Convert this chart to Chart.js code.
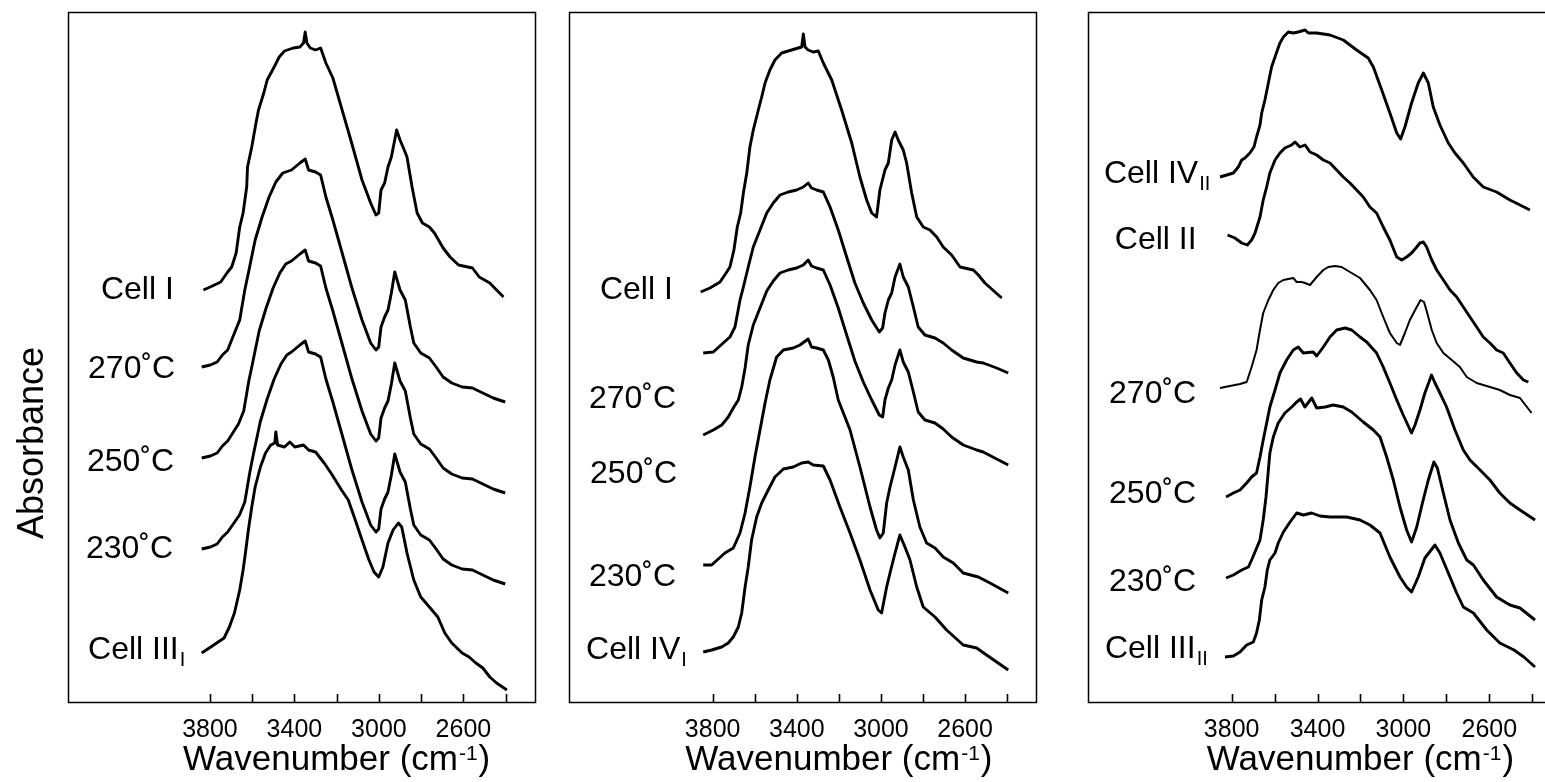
<!DOCTYPE html>
<html>
<head>
<meta charset="utf-8">
<script src="https://cdn.jsdelivr.net/npm/chart.js@4.4.1/dist/chart.umd.min.js"></script>
<style>
  html, body { margin: 0; padding: 0; background: #fff; overflow: hidden; }
  #wrap { position: relative; width: 1545px; height: 782px; overflow: hidden; }
  canvas { position: absolute; top: 0; }
</style>
</head>
<body>
<div id="wrap">
  <canvas id="c1" width="545" height="782" style="left:0"></canvas>
  <canvas id="c2" width="500" height="782" style="left:545px"></canvas>
  <canvas id="c3" width="520" height="782" style="left:1045px"></canvas>
</div>
<script>
// x: wavenumber (cm-1), y: absorbance with offsets (arbitrary units)
const tickValues = [3800, 3600, 3400, 3200, 3000, 2800, 2600, 2400];
const labeledTicks = [3800, 3400, 3000, 2600];

// panel 1
const p1CellI = [[3831,412],[3799,415],[3749,420],[3716,430],[3697,435],[3676,449],[3659,475],[3643,489],[3626,515],[3622,535],[3602,555],[3582,579],[3570,592],[3545,609],[3529,622],[3496,635],[3472,645],[3447,651],[3406,654],[3374,655],[3357,659],[3349,670],[3341,659],[3325,654],[3300,652],[3276,654],[3251,639],[3218,624],[3170,589],[3129,559],[3080,522],[3039,499],[3014,487],[3001,489],[2990,512],[2973,519],[2957,535],[2941,545],[2916,572],[2900,562],[2884,554],[2867,545],[2843,515],[2819,489],[2794,479],[2761,475],[2737,469],[2696,454],[2663,445],[2623,437],[2557,434],[2525,425],[2475,419],[2443,412],[2410,405]];
const p1T270 = [[3839,335],[3798,337],[3766,340],[3741,347],[3716,352],[3684,369],[3659,382],[3635,412],[3618,429],[3586,462],[3553,485],[3520,505],[3488,520],[3455,529],[3414,532],[3374,539],[3349,543],[3333,532],[3300,530],[3276,527],[3251,505],[3218,482],[3178,452],[3129,415],[3080,382],[3039,359],[3014,352],[3001,355],[2990,375],[2973,385],[2957,392],[2941,409],[2925,430],[2900,412],[2875,402],[2851,375],[2835,359],[2802,349],[2761,344],[2729,335],[2696,325],[2655,319],[2606,315],[2557,314],[2508,309],[2459,304],[2402,300]];
const p1T250 = [[3839,244],[3798,246],[3766,249],[3741,256],[3716,261],[3665,278],[3640,291],[3616,321],[3599,338],[3567,371],[3534,394],[3501,414],[3469,429],[3441,438],[3414,441],[3374,448],[3349,452],[3333,441],[3300,439],[3276,436],[3251,414],[3218,391],[3178,361],[3129,324],[3080,291],[3039,268],[3014,261],[3001,264],[2990,284],[2973,294],[2957,301],[2941,318],[2925,339],[2900,321],[2875,311],[2851,284],[2835,268],[2802,258],[2761,253],[2729,244],[2696,234],[2655,228],[2606,224],[2557,223],[2508,218],[2459,213],[2402,209]];
const p1T230 = [[3839,153],[3798,155],[3766,158],[3741,165],[3716,170],[3660,187],[3635,200],[3611,230],[3595,247],[3562,280],[3529,303],[3496,323],[3464,338],[3436,347],[3414,350],[3374,357],[3349,361],[3333,350],[3300,348],[3276,345],[3251,323],[3218,300],[3178,270],[3129,233],[3080,200],[3039,177],[3014,170],[3001,173],[2990,193],[2973,203],[2957,210],[2941,227],[2925,248],[2900,230],[2875,220],[2851,193],[2835,177],[2802,167],[2761,162],[2729,153],[2696,143],[2655,137],[2606,133],[2557,132],[2508,127],[2459,122],[2402,118]];
const p1CellIIIi = [[3839,49],[3782,57],[3733,64],[3708,75],[3684,89],[3659,112],[3643,132],[3632,149],[3618,172],[3602,195],[3586,215],[3561,235],[3537,249],[3512,257],[3493,259],[3488,270],[3480,257],[3447,255],[3422,260],[3398,255],[3357,257],[3333,252],[3300,250],[3259,239],[3227,229],[3177,212],[3145,202],[3112,182],[3080,162],[3047,142],[3023,130],[3001,125],[2981,135],[2957,159],[2933,172],[2908,179],[2892,175],[2867,149],[2835,122],[2802,105],[2761,95],[2721,85],[2688,69],[2655,59],[2606,49],[2573,45],[2541,39],[2508,34],[2475,25],[2443,19],[2394,12]];

// panel 2
const p2CellI = [[3857,410],[3813,414],[3765,420],[3733,430],[3718,435],[3699,452],[3683,475],[3667,489],[3654,509],[3638,529],[3623,555],[3607,572],[3583,592],[3567,605],[3551,619],[3528,632],[3504,642],[3472,649],[3425,652],[3393,654],[3377,655],[3369,668],[3361,655],[3346,652],[3322,650],[3298,651],[3274,639],[3234,622],[3187,592],[3139,559],[3100,525],[3068,502],[3044,489],[3021,485],[3005,512],[2981,532],[2965,539],[2949,562],[2933,570],[2918,562],[2894,552],[2878,539],[2854,509],[2830,485],[2799,475],[2767,472],[2735,465],[2704,455],[2664,447],[2624,435],[2561,432],[2537,427],[2506,419],[2458,410],[2426,404]];
const p2T270 = [[3845,349],[3797,350],[3750,359],[3718,365],[3694,375],[3670,402],[3654,415],[3631,435],[3607,455],[3575,472],[3543,489],[3512,499],[3480,507],[3441,510],[3401,512],[3369,515],[3346,519],[3330,514],[3306,512],[3274,510],[3242,495],[3203,472],[3163,445],[3124,419],[3084,399],[3044,382],[3008,370],[2992,374],[2981,389],[2965,402],[2949,409],[2933,425],[2910,438],[2894,425],[2870,415],[2846,395],[2823,375],[2791,367],[2743,364],[2704,359],[2664,352],[2609,344],[2545,340],[2514,339],[2450,334],[2395,329]];
const p2T250 = [[3845,267],[3797,272],[3757,277],[3726,285],[3702,294],[3678,302],[3662,315],[3646,334],[3631,357],[3607,377],[3575,394],[3543,411],[3512,421],[3480,429],[3441,432],[3401,434],[3369,437],[3346,442],[3330,436],[3306,434],[3274,432],[3242,417],[3203,394],[3163,367],[3124,341],[3084,320],[3044,302],[3008,287],[2992,285],[2981,302],[2965,314],[2949,322],[2933,337],[2910,352],[2894,340],[2870,330],[2846,310],[2823,290],[2791,282],[2743,279],[2704,273],[2664,265],[2609,257],[2545,252],[2514,250],[2450,243],[2395,237]];
const p2T230 = [[3845,137],[3805,137],[3742,149],[3702,154],[3670,169],[3646,189],[3623,215],[3599,245],[3575,272],[3551,299],[3528,322],[3496,345],[3464,352],[3417,354],[3385,357],[3346,363],[3330,355],[3306,354],[3274,352],[3250,342],[3227,325],[3203,302],[3147,272],[3100,235],[3052,195],[3021,172],[3005,164],[2989,169],[2973,199],[2957,215],[2933,235],[2910,255],[2894,245],[2870,232],[2846,202],[2815,175],[2783,159],[2743,154],[2704,145],[2656,139],[2609,129],[2537,125],[2482,119],[2395,109]];
const p2CellIVi = [[3845,50],[3805,52],[3757,55],[3726,59],[3702,65],[3678,75],[3662,89],[3646,115],[3631,135],[3615,162],[3591,185],[3567,199],[3536,212],[3504,225],[3464,233],[3417,235],[3377,239],[3346,240],[3322,237],[3274,236],[3242,222],[3195,195],[3147,169],[3100,142],[3052,112],[3013,92],[2997,89],[2973,115],[2957,129],[2933,149],[2910,167],[2886,155],[2862,142],[2830,115],[2799,95],[2743,85],[2688,72],[2609,57],[2545,54],[2498,47],[2450,40],[2395,32]];

// panel 3
const p3CellIVii = [[3854,525],[3823,527],[3792,529],[3769,535],[3753,542],[3738,544],[3715,549],[3696,555],[3684,565],[3668,577],[3660,589],[3645,602],[3629,619],[3614,635],[3590,650],[3575,659],[3559,665],[3536,670],[3513,669],[3490,670],[3458,672],[3443,669],[3404,669],[3342,667],[3280,662],[3218,652],[3164,644],[3140,635],[3101,612],[3063,589],[3031,569],[3013,563],[2993,575],[2962,599],[2931,619],[2907,629],[2884,619],[2861,595],[2830,577],[2791,559],[2760,549],[2721,539],[2675,525],[2628,515],[2566,510],[2504,502],[2457,497],[2411,492]];
const p3CellII = [[3819,467],[3785,464],[3753,459],[3727,457],[3707,462],[3691,469],[3668,485],[3653,502],[3637,515],[3622,529],[3598,542],[3575,549],[3552,554],[3521,557],[3505,560],[3482,555],[3458,557],[3435,550],[3404,547],[3373,542],[3342,539],[3311,532],[3280,525],[3249,519],[3218,512],[3187,505],[3156,495],[3125,489],[3094,475],[3063,462],[3031,445],[3008,442],[2985,445],[2962,449],[2938,455],[2923,459],[2907,460],[2892,455],[2868,442],[2845,432],[2814,422],[2783,412],[2752,405],[2721,395],[2690,385],[2659,375],[2628,365],[2597,359],[2566,352],[2535,349],[2504,339],[2472,329],[2441,322],[2418,320]];
const p3T270 = [[3854,314],[3808,316],[3761,318],[3730,320],[3707,335],[3684,352],[3668,372],[3653,389],[3629,402],[3606,412],[3583,419],[3559,422],[3513,424],[3497,420],[3474,420],[3458,419],[3435,417],[3404,425],[3373,432],[3350,435],[3319,436],[3288,435],[3249,430],[3202,424],[3156,412],[3125,402],[3094,385],[3063,369],[3031,359],[3016,357],[2993,369],[2970,382],[2938,395],[2920,402],[2904,400],[2889,389],[2868,372],[2845,359],[2814,349],[2775,342],[2737,335],[2705,325],[2659,319],[2597,315],[2551,312],[2504,307],[2457,304],[2403,289]];
const p3T250 = [[3826,205],[3792,209],[3761,212],[3730,219],[3707,225],[3684,229],[3668,245],[3653,262],[3634,282],[3622,295],[3598,312],[3575,329],[3544,342],[3513,352],[3490,355],[3466,349],[3420,350],[3404,346],[3373,355],[3342,365],[3311,372],[3272,374],[3241,372],[3202,365],[3171,360],[3125,349],[3094,335],[3063,319],[3031,302],[3001,287],[2962,269],[2946,277],[2923,292],[2900,309],[2869,327],[2853,319],[2830,309],[2799,295],[2760,272],[2721,252],[2690,242],[2643,232],[2597,222],[2551,209],[2504,199],[2457,192],[2387,182]];
const p3T230 = [[3826,124],[3792,127],[3753,132],[3722,135],[3707,142],[3668,162],[3653,182],[3640,205],[3629,232],[3622,249],[3606,265],[3583,279],[3552,289],[3520,295],[3497,300],[3479,303],[3459,295],[3427,304],[3404,294],[3365,295],[3327,297],[3280,295],[3241,290],[3187,280],[3140,272],[3109,265],[3078,245],[3047,222],[3016,195],[2985,172],[2962,160],[2938,175],[2908,202],[2884,222],[2858,240],[2842,234],[2814,209],[2783,182],[2744,159],[2705,142],[2674,137],[2628,122],[2566,105],[2504,97],[2457,94],[2387,82]];
const p3CellIIIii = [[3831,45],[3792,46],[3761,50],[3730,57],[3699,60],[3684,69],[3671,82],[3660,102],[3645,115],[3634,132],[3622,142],[3598,149],[3583,159],[3559,170],[3528,180],[3497,189],[3466,187],[3427,189],[3389,186],[3342,185],[3264,185],[3202,182],[3156,177],[3109,169],[3063,145],[3016,125],[2985,115],[2962,110],[2931,125],[2900,144],[2853,157],[2830,149],[2791,129],[2752,109],[2721,95],[2674,89],[2612,72],[2551,59],[2485,52],[2439,45],[2387,35]];

// curve labels, anchored in data units (left edge, vertical centre)
const p1Labels = [
  { text: 'Cell I', x: 4316, y: 414 },
  { text: '270˚C', x: 4377, y: 335 },
  { text: '250˚C', x: 4382, y: 242 },
  { text: '230˚C', x: 4387, y: 155 },
  { text: 'Cell III', sub: 'I', x: 4377, y: 54 }
];
const p2Labels = [
  { text: 'Cell I', x: 4336, y: 414 },
  { text: '270˚C', x: 4388, y: 305 },
  { text: '250˚C', x: 4383, y: 230 },
  { text: '230˚C', x: 4388, y: 127 },
  { text: 'Cell IV', sub: 'I', x: 4402, y: 54 }
];
const p3Labels = [
  { text: 'Cell IV', sub: 'II', x: 4395, y: 530 },
  { text: 'Cell II', x: 4344, y: 464 },
  { text: '270˚C', x: 4371, y: 310 },
  { text: '250˚C', x: 4371, y: 210 },
  { text: '230˚C', x: 4371, y: 122 },
  { text: 'Cell III', sub: 'II', x: 4390, y: 55 }
];

const FONT = '"Liberation Sans", Arial, sans-serif';

function drawXTitle(ctx, cx, base) {
  const a = 'Wavenumber (cm', b = '-1', c = ')';
  ctx.font = '35px ' + FONT;
  const wa = ctx.measureText(a).width, wc = ctx.measureText(c).width;
  ctx.font = '21px ' + FONT;
  const wb = ctx.measureText(b).width;
  const x0 = cx - (wa + wb + wc + 2) / 2;
  ctx.font = '35px ' + FONT;
  ctx.fillText(a, x0, base);
  ctx.font = '21px ' + FONT;
  ctx.fillText(b, x0 + wa + 1, base - 10);
  ctx.font = '35px ' + FONT;
  ctx.fillText(c, x0 + wa + wb + 2, base);
}

const panelDecor = {
  id: 'panelDecor',
  afterDraw(chart, args, opts) {
    const { ctx, chartArea: a, scales: { x, y } } = chart;
    ctx.save();
    ctx.strokeStyle = '#000';
    ctx.fillStyle = '#000';
    ctx.lineWidth = 1.5;
    ctx.strokeRect(a.left + 0.5, a.top + 0.5, a.right - a.left, a.bottom - a.top);

    // inward tick marks
    ctx.lineWidth = 1.6;
    ctx.beginPath();
    tickValues.forEach(v => {
      const px = Math.round(x.getPixelForValue(v)) + 0.5;
      ctx.moveTo(px, a.bottom);
      ctx.lineTo(px, a.bottom - 8);
    });
    ctx.stroke();

    ctx.textAlign = 'left';
    ctx.textBaseline = 'alphabetic';
    (opts.labels || []).forEach(lab => {
      const px = x.getPixelForValue(lab.x);
      const base = y.getPixelForValue(lab.y) + 11;
      ctx.font = '32px ' + FONT;
      ctx.fillText(lab.text, px, base);
      if (lab.sub) {
        const w = ctx.measureText(lab.text).width;
        ctx.font = '20px ' + FONT;
        ctx.fillText(lab.sub, px + w + 1, base + 7);
      }
    });

    drawXTitle(ctx, x.getPixelForValue(3200), a.bottom + 68);

    if (opts.yTitle) {
      ctx.save();
      ctx.translate(a.left - 25, y.getPixelForValue(259));
      ctx.rotate(-Math.PI / 2);
      ctx.textAlign = 'center';
      ctx.font = '36px ' + FONT;
      ctx.fillText(opts.yTitle, 0, 0);
      ctx.restore();
    }
    ctx.restore();
  }
};

function makePanel(id, series, min, max, pad, labels, yTitle) {
  return new Chart(document.getElementById(id), {
    type: 'line',
    data: {
      datasets: series.map(s => ({
        data: s.pts.map(([wn, ab]) => ({ x: wn, y: ab })),
        borderColor: '#000',
        borderWidth: s.w || 2.9,
        borderJoinStyle: 'round',
        pointRadius: 0,
        tension: 0,
        fill: false
      }))
    },
    options: {
      responsive: false,
      animation: false,
      events: [],
      layout: { padding: pad },
      plugins: {
        legend: { display: false },
        tooltip: { enabled: false },
        panelDecor: { labels, yTitle }
      },
      scales: {
        x: {
          type: 'linear',
          reverse: true,
          min, max,
          grid: { display: false, drawTicks: false },
          border: { display: false },
          afterBuildTicks: s => { s.ticks = tickValues.map(v => ({ value: v })); },
          afterFit: s => { s.height = 80; },
          ticks: {
            autoSkip: false,
            maxRotation: 0,
            padding: 13,
            color: '#000',
            font: { family: FONT, size: 25 },
            callback: v => labeledTicks.includes(v) ? String(v) : ''
          }
        },
        y: { display: false, min: 0, max: 690 }
      }
    },
    plugins: [panelDecor]
  });
}

makePanel('c1',
  [{ pts: p1CellI }, { pts: p1T270 }, { pts: p1T250 }, { pts: p1T230 }, { pts: p1CellIIIi }],
  2261, 4472, { left: 68, right: 10, top: 12, bottom: 0 }, p1Labels, 'Absorbance');

makePanel('c2',
  [{ pts: p2CellI }, { pts: p2T270 }, { pts: p2T250 }, { pts: p2T230 }, { pts: p2CellIVi }],
  2263, 4483, { left: 24, right: 9, top: 12, bottom: 0 }, p2Labels, null);

makePanel('c3',
  [{ pts: p3CellIVii }, { pts: p3CellII }, { pts: p3T270, w: 2.0 }, { pts: p3T250 }, { pts: p3T230 }, { pts: p3CellIIIii }],
  2294, 4469, { left: 43, right: 10, top: 12, bottom: 0 }, p3Labels, null);
</script>
</body>
</html>
